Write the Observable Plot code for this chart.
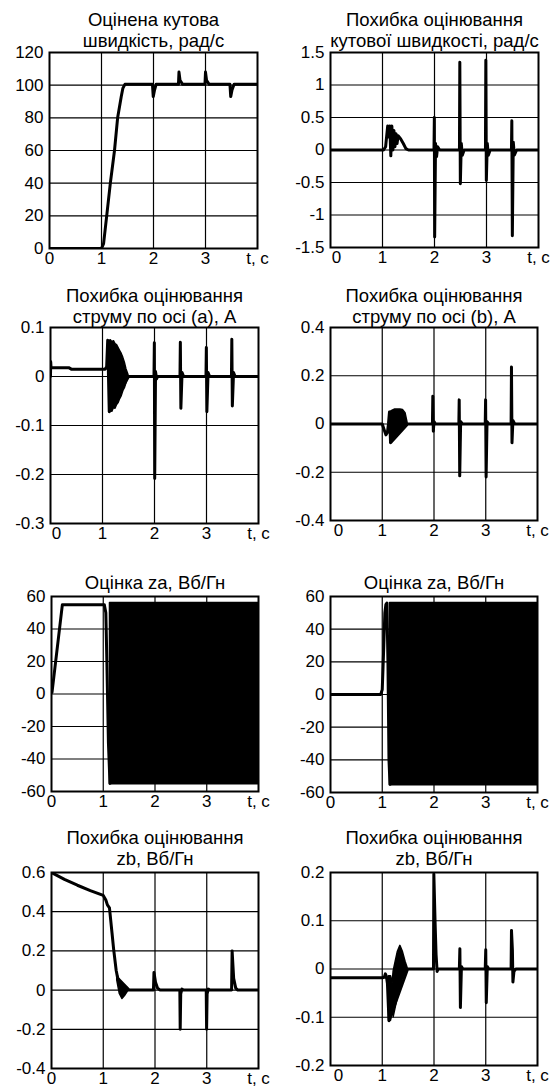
<!DOCTYPE html>
<html><head><meta charset="utf-8">
<script src="https://cdn.jsdelivr.net/npm/d3@7"></script>
<script src="https://cdn.jsdelivr.net/npm/@observablehq/plot@0.6"></script>
<style>
body{margin:0;background:#fff;}
#wrap{position:relative;width:557px;height:1091px;background:#fff;overflow:hidden;}
.panel{position:absolute;}
</style></head><body><div id="wrap"></div>
<script>
// ---------- titles & ticks ----------
const title1 = "Оцінена кутова\nшвидкість, рад/с";
const title2 = "Похибка оцінювання\nкутової швидкості, рад/с";
const title3 = "Похибка оцінювання\nструму по осі (a), А";
const title4 = "Похибка оцінювання\nструму по осі (b), А";
const title5 = "Оцінка za, Вб/Гн";
const title6 = "Оцінка za, Вб/Гн";
const title7 = "Похибка оцінювання\nzb, Вб/Гн";
const title8 = "Похибка оцінювання\nzb, Вб/Гн";
const xTickValues = [1, 2, 3, 4];
const xTickZero = [0];
const xEndLabel = "t, c";
const xGridValues = [1, 2, 3];
const y1Ticks = [0, 20, 40, 60, 80, 100, 120];
const y2Ticks = [-1.5, -1, -0.5, 0, 0.5, 1, 1.5];
const y3Ticks = [-0.3, -0.2, -0.1, 0, 0.1];
const y4Ticks = [-0.4, -0.2, 0, 0.2, 0.4];
const y5Ticks = [-60, -40, -20, 0, 20, 40, 60];
const y6Ticks = [-60, -40, -20, 0, 20, 40, 60];
const y7Ticks = [-0.4, -0.2, 0, 0.2, 0.4, 0.6];
const y8Ticks = [-0.2, -0.1, 0, 0.1, 0.2];

// ---------- series: [t, value] ----------
const speedEst = [[0,0],[1.0,0],[1.04,3],[1.1,20],[1.17,40],[1.25,60],[1.31,80],[1.38,93],[1.41,98],[1.45,100.5],
  [1.98,100.5],[1.995,93],[2.02,97],[2.05,100.5],[2.48,100.5],[2.49,108],[2.51,103],[2.56,100.5],
  [2.99,100.5],[3.0,108],[3.02,103],[3.07,100.5],[3.47,100.5],[3.485,93],[3.51,97],[3.55,100.5],[4,100.5]];

const speedErr = [[0,0],[1.02,0],[1.06,0.05],[1.1,0.37],[1.12,0.2],[1.14,0.37],[1.16,-0.09],[1.18,0.37],[1.2,0.0],
  [1.22,0.3],[1.24,0.05],[1.26,0.25],[1.28,0.1],[1.3,0.22],[1.35,0.17],[1.4,0.1],[1.45,0.02],[1.5,0],
  [1.99,0],[1.997,0.5],[2.003,-1.34],[2.02,0.1],[2.04,-0.1],[2.06,0.05],[2.1,0],
  [2.48,0],[2.487,1.35],[2.497,-0.52],[2.515,0.1],[2.535,-0.08],[2.57,0],
  [2.98,0],[2.987,1.38],[2.997,-0.47],[3.015,0.1],[3.035,-0.08],[3.07,0],
  [3.48,0],[3.487,0.45],[3.497,-1.32],[3.515,0.12],[3.535,-0.08],[3.58,0],[4,0]];

const curAErr = [[0,0],[0.004,0.03],[0.01,0.018],[0.35,0.018],[0.4,0.015],[1.05,0.015],[1.08,0.02],[1.1,0.074],[1.13,-0.072],
  [1.5,0],[1.99,0],[1.997,0.069],[2.004,-0.208],[2.02,0.01],[2.04,-0.005],[2.06,0],
  [2.49,0],[2.497,0.07],[2.507,-0.065],[2.53,0.008],[2.56,0],
  [2.99,0],[2.997,0.059],[3.007,-0.072],[3.03,0.008],[3.06,0],
  [3.48,0],[3.487,0.076],[3.497,-0.06],[3.52,0.008],[3.55,0],[4,0]];
const curABandT  = [1.13, 1.16, 1.19, 1.22, 1.25, 1.28, 1.31, 1.34, 1.37, 1.40, 1.43, 1.46, 1.50];
const curABandHi = [0.072, 0.074, 0.070, 0.072, 0.066, 0.064, 0.058, 0.052, 0.046, 0.038, 0.028, 0.015, 0.003];
const curABandLo = [-0.072, -0.070, -0.072, -0.064, -0.066, -0.058, -0.054, -0.046, -0.040, -0.030, -0.024, -0.014, -0.002];

const curBErr = [[0,0],[1.0,0],[1.03,-0.02],[1.07,-0.045],[1.1,-0.035],[1.12,0.0],[1.14,0.05],[1.16,-0.078],
  [1.49,0],[1.97,0],[1.977,0.115],[1.987,-0.03],[2.0,0.01],[2.03,0],
  [2.48,0],[2.487,0.1],[2.497,-0.215],[2.515,0.01],[2.55,0],
  [2.99,0],[2.997,0.1],[3.007,-0.22],[3.025,0.01],[3.06,0],
  [3.49,0],[3.497,0.236],[3.507,-0.078],[3.525,0.015],[3.56,0],[4,0]];
const curBBandT  = [1.16, 1.20, 1.25, 1.30, 1.35, 1.40, 1.45, 1.49];
const curBBandHi = [0.05, 0.055, 0.06, 0.06, 0.06, 0.058, 0.045, 0.005];
const curBBandLo = [-0.078, -0.07, -0.055, -0.045, -0.035, -0.025, -0.012, -0.003];

const zaEstL = [[0,3],[0.01,1],[0.21,55],[1.02,55],[1.05,50],[1.07,20],[1.1,-30],[1.13,-55]];
const zaBandLT  = [1.13, 4.0];
const zaBandLHi = [56, 56];
const zaBandLLo = [-55.5, -55.5];

const zaEstR = [[0,0],[0.97,0],[1.0,3],[1.03,30],[1.05,50],[1.07,55],[1.09,56],[1.11,20],[1.13,-40],[1.15,-55]];
const zaBandRT  = [1.15, 4.0];
const zaBandRHi = [56, 56];
const zaBandRLo = [-55.5, -55.5];

const zbErrL = [[0,0.6],[0.25,0.565],[0.5,0.535],[0.75,0.508],[1.0,0.483],[1.05,0.46],[1.08,0.435],[1.12,0.42],
  [1.17,0.29],[1.2,0.21],[1.25,0.1],[1.28,0.06],
  [1.5,0],[1.97,0],[1.98,0.09],[2.01,0.04],[2.05,0.01],[2.1,0],
  [2.48,0],[2.487,-0.2],[2.497,-0.02],[2.52,0.005],[2.55,0],
  [2.99,0],[2.997,-0.2],[3.007,-0.02],[3.03,0.005],[3.06,0],
  [3.48,0],[3.49,0.2],[3.52,0.06],[3.56,0.01],[3.6,0],[4,0]];
const zbBandLT  = [1.27, 1.32, 1.37, 1.42, 1.47, 1.50];
const zbBandLHi = [0.08, 0.05, 0.03, 0.02, 0.01, 0.002];
const zbBandLLo = [0.05, -0.02, -0.045, -0.03, -0.01, -0.002];

const zbErrR = [[0,-0.018],[1.0,-0.018],[1.04,-0.017],[1.06,-0.01],[1.08,-0.015],[1.1,-0.03],[1.13,-0.107],
  [1.49,0],[1.99,0],[1.997,0.197],[2.02,0.1],[2.04,0.03],[2.06,-0.005],[2.08,0],
  [2.49,0],[2.5,0.042],[2.51,-0.08],[2.53,0.005],[2.56,0],
  [2.99,0],[3.0,0.04],[3.01,-0.07],[3.03,0.005],[3.06,0],
  [3.49,0],[3.497,0.08],[3.515,0.04],[3.525,-0.027],[3.545,-0.005],[3.58,0],[4,0]];
const zbBandRT  = [1.13, 1.17, 1.20, 1.22, 1.26, 1.30, 1.35, 1.40, 1.45, 1.49];
const zbBandRHi = [-0.015, -0.015, -0.03, -0.005, 0.015, 0.035, 0.048, 0.035, 0.015, 0.002];
const zbBandRLo = [-0.107, -0.107, -0.085, -0.1, -0.08, -0.06, -0.04, -0.02, -0.008, -0.002];

// ---------- layout ----------
const FONT = "'Liberation Sans', Arial, sans-serif";
const TICK_FS = 17;
const TITLE_FS = 18.5;
const toBand = (T, Hi, Lo) => T.map((t, i) => ({t, hi: Hi[i], lo: Lo[i]}));
const panels = [
  {left:0,   top:0,   w:278, h:272, ml:49, mr:21, mt:52, mb:24, title:title1, tdy:-6, yd:[0,120], yt:y1Ticks, line:speedEst, x0dx:0},
  {left:278, top:0,   w:279, h:272, ml:52, mr:19, mt:52, mb:25, title:title2, tdy:-6, yd:[-1.5,1.5], yt:y2Ticks, line:speedErr, x0dx:6},
  {left:0,   top:272, w:278, h:273, ml:50, mr:20, mt:55, mb:22, title:title3, tdy:-5, yd:[-0.3,0.1], yt:y3Ticks, line:curAErr, band:toBand(curABandT,curABandHi,curABandLo), x0dx:6},
  {left:278, top:272, w:279, h:273, ml:52, mr:20, mt:55, mb:25, title:title4, tdy:-5, yd:[-0.4,0.4], yt:y4Ticks, line:curBErr, band:toBand(curBBandT,curBBandHi,curBBandLo), x0dx:8},
  {left:0,   top:545, w:278, h:270, ml:51, mr:20, mt:51, mb:24, title:title5, tdy:-8, yd:[-60,60], yt:y5Ticks, line:zaEstL, band:toBand(zaBandLT,zaBandLHi,zaBandLLo), x0dx:0},
  {left:278, top:545, w:279, h:270, ml:52, mr:20, mt:51, mb:23, title:title6, tdy:-8, yd:[-60,60], yt:y6Ticks, line:zaEstR, band:toBand(zaBandRT,zaBandRHi,zaBandRLo), x0dx:0},
  {left:0,   top:815, w:278, h:276, ml:51, mr:20, mt:57, mb:23, title:title7, tdy:-8, yd:[-0.4,0.6], yt:y7Ticks, line:zbErrL, band:toBand(zbBandLT,zbBandLHi,zbBandLLo), x0dx:0},
  {left:278, top:815, w:279, h:276, ml:52, mr:20, mt:57, mb:26, title:title8, tdy:-8, yd:[-0.2,0.2], yt:y8Ticks, line:zbErrR, band:toBand(zbBandRT,zbBandRHi,zbBandRLo), x0dx:8},
];

const fmtY = d => String(+d.toFixed(3));
const fmtX = d => d === 4 ? xEndLabel : String(d);
const wrap = document.getElementById("wrap");

for (const p of panels) {
  const lineData = p.line.map(([t, v]) => ({t, v}));
  const marks = [
    Plot.ruleX(xGridValues, {stroke:"#000", strokeWidth:1.2}),
    Plot.ruleY(p.yt, {stroke:"#000", strokeWidth:1.2}),
  ];
  if (p.band) marks.push(Plot.areaY(p.band, {x:"t", y1:"lo", y2:"hi", fill:"#000", stroke:"#000", strokeWidth:1.5, clip:true}));
  marks.push(Plot.line(lineData, {x:"t", y:"v", stroke:"#000", strokeWidth:3, strokeLinejoin:"round", clip:true}));
  marks.push(Plot.frame({stroke:"#000", strokeWidth:2}));
  marks.push(Plot.axisY(p.yt, {tickSize:0, tickPadding:6, tickFormat:fmtY, fontSize:TICK_FS, fill:"#000", label:null}));
  marks.push(Plot.axisX(xTickValues, {tickSize:0, tickPadding:3, tickFormat:fmtX, fontSize:TICK_FS, fill:"#000", label:null}));
  marks.push(Plot.axisX(xTickZero, {tickSize:0, tickPadding:3, tickFormat:fmtX, fontSize:TICK_FS, fill:"#000", label:null, dx:p.x0dx}));
  marks.push(Plot.text([p.title], {text:d => d, frameAnchor:"top", dy:p.tdy, lineAnchor:"bottom", fontSize:TITLE_FS, lineHeight:1.12, fill:"#000"}));
  const svg = Plot.plot({
    width:p.w, height:p.h,
    marginLeft:p.ml, marginRight:p.mr, marginTop:p.mt, marginBottom:p.mb,
    x:{domain:[0,4], label:null},
    y:{domain:p.yd, label:null},
    style:{fontFamily:FONT, fontSize:TICK_FS + "px", background:"white", color:"#000", overflow:"visible"},
    marks
  });
  const div = document.createElement("div");
  div.className = "panel";
  div.style.left = p.left + "px";
  div.style.top = p.top + "px";
  div.appendChild(svg);
  wrap.appendChild(div);
}
</script></body></html>
